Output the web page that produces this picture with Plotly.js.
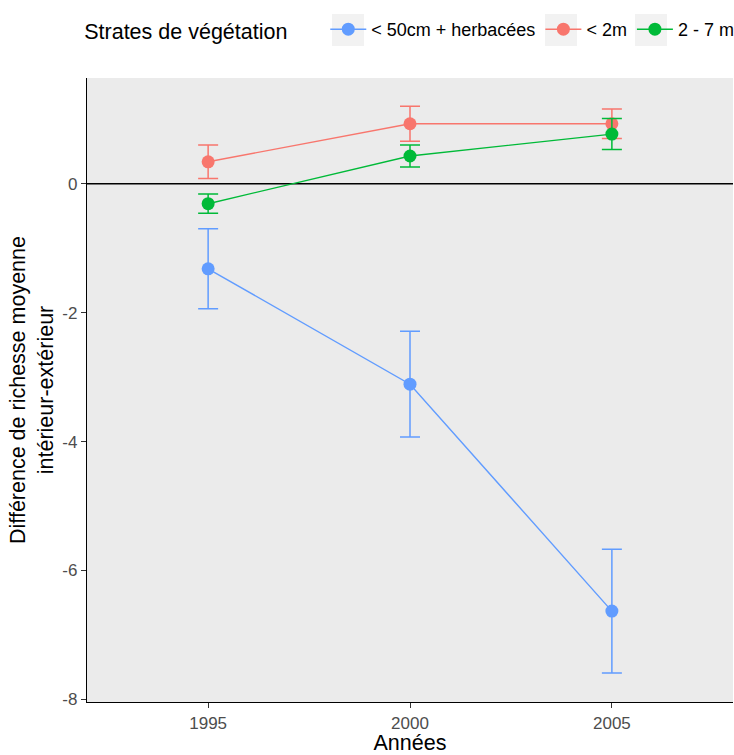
<!DOCTYPE html>
<html>
<head>
<meta charset="utf-8">
<script src="https://cdn.plot.ly/plotly-3.0.1.min.js"></script>
<style>body{margin:0;padding:0;background:#fff;} #chart{width:734px;height:755px;}</style>
</head>
<body>
<div id="chart"></div>
<script>
const years = [1995, 2000, 2005];
const seriesNames = ["< 50cm + herbacées", "< 2m", "2 - 7 m"];
const herbMean = [-1.32, -3.11, -6.63];
const herbErr = [0.62, 0.82, 0.96];
const lt2Mean = [0.34, 0.93, 0.93];
const lt2Err = [0.26, 0.27, 0.23];
const m27Mean = [-0.31, 0.43, 0.77];
const m27Err = [0.15, 0.17, 0.24];
const colors = ["#619CFF", "#F8766D", "#00BA38"];

const means = [herbMean, lt2Mean, m27Mean];
const errs = [herbErr, lt2Err, m27Err];

const traces = means.map((m, i) => ({
  type: "scatter",
  mode: "lines+markers",
  x: years,
  y: m,
  name: seriesNames[i],
  line: {color: colors[i], width: 1.4},
  marker: {color: colors[i], size: 13, symbol: "circle"},
  error_y: {type: "data", array: errs[i], visible: true, color: colors[i], thickness: 1.5, width: 10}
}));

// light grey legend key backgrounds (container pixel boxes)
const keyBoxes = [[332, 364], [545, 577], [635, 667]];
const W = 734, H = 755;
const shapes = [{
  type: "line", xref: "paper", x0: 0, x1: 1, yref: "y", y0: 0, y1: 0,
  line: {color: "#000", width: 1.4}, layer: "below"
}].concat(keyBoxes.map(b => ({
  type: "rect", xref: "paper", yref: "paper",
  x0: (b[0] - 87) / 646, x1: (b[1] - 87) / 646,
  y0: (702 - 46) / 624, y1: (702 - 14) / 624,
  fillcolor: "#F2F2F2", line: {width: 0}, layer: "below"
})));

const layout = {
  width: W, height: H,
  margin: {l: 87, r: 1, t: 78, b: 53},
  paper_bgcolor: "#ffffff",
  plot_bgcolor: "#EBEBEB",
  font: {family: "Liberation Sans, Arial, sans-serif", color: "#000"},
  showlegend: true,
  legend: {
    orientation: "h",
    xref: "container", yref: "container",
    x: 0.112, xanchor: "left",
    y: 1 - 30 / 755, yanchor: "middle",
    font: {size: 18, color: "#000"},
    title: {text: "Strates de végétation     ", font: {size: 21.5, color: "#000"}, side: "left"},
    itemwidth: 36,
    bgcolor: "rgba(0,0,0,0)"
  },
  xaxis: {
    range: [1992, 2008],
    tickvals: years,
    ticktext: years.map(String),
    showgrid: false, zeroline: false,
    showline: true, linecolor: "#000", linewidth: 1.2,
    ticks: "outside", ticklen: 5, tickcolor: "#333",
    tickfont: {size: 17, color: "#4D4D4D"},
    title: {text: "Années", font: {size: 21.5, color: "#000"}, standoff: 22},
    automargin: false
  },
  yaxis: {
    range: [-8.04, 1.64],
    tickvals: [-8, -6, -4, -2, 0],
    ticktext: ["-8", "-6", "-4", "-2", "0"],
    showgrid: false, zeroline: false,
    showline: true, linecolor: "#000", linewidth: 1.2,
    ticks: "outside", ticklen: 5, tickcolor: "#333",
    tickfont: {size: 17, color: "#4D4D4D"},
    title: {text: "Différence de richesse moyenne<br>intérieur-extérieur", font: {size: 21.5, color: "#000"}, standoff: 2},
    automargin: false
  },
  shapes: shapes
};

Plotly.newPlot("chart", traces, layout, {displayModeBar: false, staticPlot: true});
</script>
</body>
</html>
